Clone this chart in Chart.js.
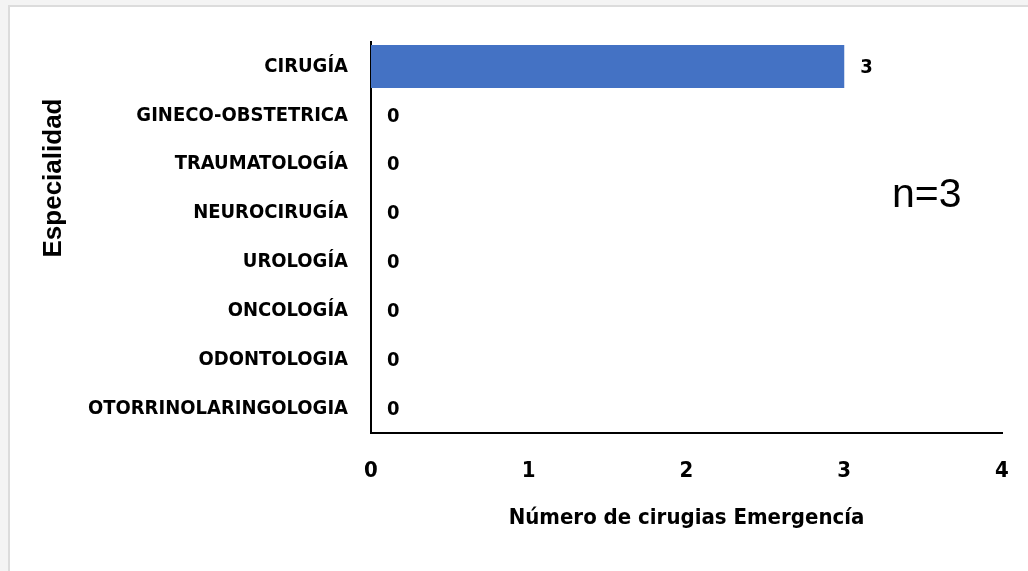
<!DOCTYPE html>
<html>
<head>
<meta charset="utf-8">
<script src="https://cdn.jsdelivr.net/npm/chart.js@4"></script>
<style>
  html, body { margin: 0; padding: 0; background: #f4f4f4; }
  #wrap { position: absolute; left: 0; top: 0; width: 1028px; height: 571px; }
</style>
</head>
<body>
<div id="wrap"><canvas id="c" width="1028" height="571"></canvas></div>
<script>
const categories = ["CIRUGÍA", "GINECO-OBSTETRICA", "TRAUMATOLOGÍA", "NEUROCIRUGÍA", "UROLOGÍA", "ONCOLOGÍA", "ODONTOLOGIA", "OTORRINOLARINGOLOGIA"];
const values = [3, 0, 0, 0, 0, 0, 0, 0];
const xTicks = [0, 1, 2, 3, 4];
const yTitle = "Especialidad";
const xTitle = "Número de cirugias Emergencía";
const note = "n=3";

const NARROW = "'Liberation Sans Narrow', 'DejaVu Sans Condensed', sans-serif";

const framePlugin = {
  id: 'frame',
  beforeDraw(chart) {
    const ctx = chart.ctx;
    ctx.save();
    ctx.fillStyle = '#f4f4f4';
    ctx.fillRect(0, 0, chart.width, chart.height);
    ctx.fillStyle = '#ffffff';
    ctx.fillRect(10, 7, chart.width - 10, chart.height - 7);
    ctx.fillStyle = '#dcdcdc';
    ctx.fillRect(8, 5, 2, chart.height - 5);
    ctx.fillRect(8, 5, chart.width - 8, 2);
    ctx.restore();
  }
};

const labelPlugin = {
  id: 'valueLabels',
  afterDatasetsDraw(chart) {
    const ctx = chart.ctx;
    const meta = chart.getDatasetMeta(0);
    ctx.save();
    ctx.fillStyle = '#000';
    ctx.font = "bold 20px " + NARROW;
    ctx.textAlign = 'left';
    ctx.textBaseline = 'middle';
    meta.data.forEach((el, i) => {
      ctx.fillText(String(values[i]), el.x + 16, el.y + 1);
    });
    // axis titles and note
    const ca = chart.chartArea;
    ctx.font = "bold 26px 'Liberation Sans', Arial, sans-serif";
    ctx.textAlign = 'center';
    ctx.textBaseline = 'middle';
    ctx.save();
    ctx.translate(54, 178);
    ctx.rotate(-Math.PI / 2);
    ctx.fillText(yTitle, 0, 0);
    ctx.restore();
    ctx.font = "bold 22px " + NARROW;
    ctx.fillText(xTitle, (ca.left + ca.right) / 2, 518);
    ctx.font = "41px 'Liberation Sans', Arial, sans-serif";
    ctx.textAlign = 'left';
    ctx.fillText(note, 892, 196);
    ctx.restore();
  }
};

new Chart(document.getElementById('c'), {
  type: 'bar',
  data: {
    labels: categories,
    datasets: [{
      data: values,
      backgroundColor: '#4472C4',
      borderWidth: 0,
      categoryPercentage: 1,
      barPercentage: 0.88
    }]
  },
  options: {
    indexAxis: 'y',
    responsive: false,
    animation: false,
    devicePixelRatio: 1,
    layout: { padding: { top: 42, right: 26, bottom: 0, left: 0 } },
    plugins: { legend: { display: false }, tooltip: { enabled: false } },
    scales: {
      x: {
        min: 0, max: 4,
        afterBuildTicks(scale) { scale.ticks = xTicks.map(v => ({ value: v })); },
        afterFit(scale) { scale.height = 138; scale.paddingLeft = 0; scale.paddingRight = 0; },
        grid: { display: false, drawTicks: false },
        border: { display: true, color: '#000', width: 2 },
        ticks: { color: '#000', padding: 25, font: { family: NARROW, size: 22, weight: 'bold' } }
      },
      y: {
        afterFit(scale) { scale.width = 371; scale.paddingTop = 0; scale.paddingBottom = 0; },
        grid: { display: false, drawTicks: false },
        border: { display: true, color: '#000', width: 2 },
        ticks: { color: '#000', padding: 23, font: { family: NARROW, size: 20, weight: 'bold' } }
      }
    }
  },
  plugins: [framePlugin, labelPlugin]
});
</script>
</body>
</html>
